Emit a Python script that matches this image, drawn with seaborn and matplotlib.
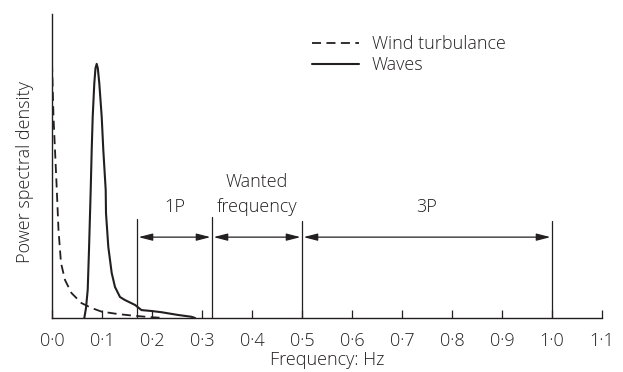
import matplotlib
matplotlib.use('Agg')
import matplotlib.pyplot as plt
import seaborn as sns

# Curves (frequency in Hz, PSD in relative units)
wind_freq = [0.0, 0.003, 0.009, 0.013, 0.018, 0.026, 0.039, 0.059, 0.079, 0.099, 0.132, 0.166, 0.196, 0.215]
wind_psd = [0.839, 0.661, 0.444, 0.289, 0.181, 0.125, 0.082, 0.049, 0.033, 0.021, 0.013, 0.007, 0.003, 0.001]

wave_freq = [0.0646, 0.068, 0.0714, 0.074, 0.0774, 0.0794, 0.0814, 0.0846, 0.087, 0.0894,
             0.0916, 0.0946, 0.0994, 0.1026, 0.1074, 0.108, 0.1126, 0.1194, 0.126, 0.136,
             0.146, 0.166, 0.179, 0.199, 0.219, 0.252, 0.279, 0.286]
wave_psd = [0.0, 0.033, 0.092, 0.224, 0.421, 0.553, 0.662, 0.772, 0.822, 0.836,
            0.822, 0.772, 0.662, 0.553, 0.421, 0.345, 0.234, 0.148, 0.102, 0.069,
            0.059, 0.043, 0.026, 0.023, 0.019, 0.010, 0.004, 0.0]

# Band limits and labels
band_edges = [0.17, 0.32, 0.5, 1.0]
edge_tops = [0.326, 0.332, 0.319, 0.319]
band_labels = ['1P', 'Wanted\nfrequency', '3P']
label_levels = [0.365, 0.406, 0.365]
arrow_level = 0.266

x_ticks = [i / 10 for i in range(12)]
x_tick_labels = [f'{t:.1f}'.replace('.', '\u00b7') for t in x_ticks]

INK = '#231f20'

sns.set_style('white')
plt.rcParams['font.family'] = ['Open Sans', 'DejaVu Sans']
plt.rcParams['font.weight'] = 'light'
plt.rcParams['axes.labelweight'] = 'light'
plt.rcParams['text.color'] = INK

fig = plt.figure(figsize=(6.23, 3.72), dpi=100)
ax = fig.add_axes([52 / 623, 1 - 318 / 372, 550 / 623, 304 / 372])

sns.lineplot(x=wind_freq, y=wind_psd, ax=ax, color=INK, linewidth=1.3,
             linestyle=(0, (5, 3)), label='Wind turbulance')
sns.lineplot(x=wave_freq, y=wave_psd, ax=ax, color=INK, linewidth=1.5,
             label='Waves')

# vertical band edges
for x, top in zip(band_edges, edge_tops):
    ax.plot([x, x], [0, top], color=INK, linewidth=0.9)

# double arrows between edges + labels
for i, lab in enumerate(band_labels):
    x0, x1 = band_edges[i], band_edges[i + 1]
    ax.annotate('', xy=(x0 + 0.003, arrow_level), xytext=(x1 - 0.003, arrow_level),
                arrowprops=dict(arrowstyle='<|-|>,head_length=0.7,head_width=0.18',
                                color=INK, lw=0.9, shrinkA=0, shrinkB=0,
                                mutation_scale=12))
    ax.text((x0 + x1) / 2, label_levels[i], lab, ha='center', va='center',
            fontsize=13, linespacing=1.45)

ax.set_xlim(0, 1.1)
ax.set_ylim(0, 1)
ax.set_xticks(x_ticks)
ax.set_xticklabels(x_tick_labels)
ax.set_yticks([])
ax.tick_params(axis='x', direction='in', length=5.5, width=0.9, colors=INK,
               labelsize=13, pad=10, bottom=True)
ax.set_xlabel('Frequency: Hz', fontsize=13, color=INK, labelpad=1)
ax.set_ylabel('Power spectral density', fontsize=13, color=INK)
ax.yaxis.set_label_coords(-0.032, 0.48)

for side in ['top', 'right']:
    ax.spines[side].set_visible(False)
for side in ['left', 'bottom']:
    ax.spines[side].set_color(INK)
    ax.spines[side].set_linewidth(1.0)

ax.legend(loc='upper left', bbox_to_anchor=(0.457, 0.96), frameon=False,
          fontsize=13, handlelength=2.6, handletextpad=0.7, labelspacing=0.15,
          borderpad=0)

fig.savefig('out.png', dpi=100)
